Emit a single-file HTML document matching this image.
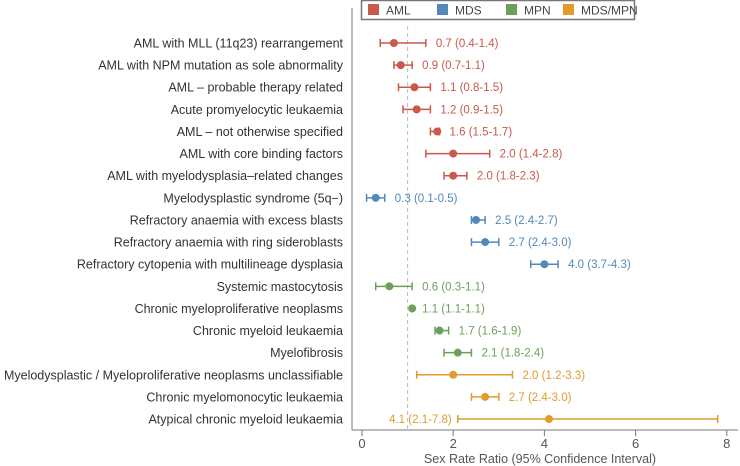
<!DOCTYPE html>
<html><head><meta charset="utf-8"><style>
body{margin:0;background:#fff;}
svg{display:block;font-family:"Liberation Sans",sans-serif;}
</style></head><body>
<svg id="chart" width="740" height="466"></svg>
<script>
const categories=["AML with MLL (11q23) rearrangement","AML with NPM mutation as sole abnormality","AML \u2013 probable therapy related","Acute promyelocytic leukaemia","AML \u2013 not otherwise specified","AML with core binding factors","AML with myelodysplasia\u2013related changes","Myelodysplastic syndrome (5q\u2212)","Refractory anaemia with excess blasts","Refractory anaemia with ring sideroblasts","Refractory cytopenia with multilineage dysplasia","Systemic mastocytosis","Chronic myeloproliferative neoplasms","Chronic myeloid leukaemia","Myelofibrosis","Myelodysplastic / Myeloproliferative neoplasms unclassifiable","Chronic myelomonocytic leukaemia","Atypical chronic myeloid leukaemia"];
const groups=["AML","AML","AML","AML","AML","AML","AML","MDS","MDS","MDS","MDS","MPN","MPN","MPN","MPN","MDS/MPN","MDS/MPN","MDS/MPN"];
const estimates=[0.7,0.85,1.15,1.2,1.65,2.0,2.0,0.3,2.5,2.7,4.0,0.6,1.1,1.7,2.1,2.0,2.7,4.1];
const lowers=[0.4,0.7,0.8,0.9,1.5,1.4,1.8,0.1,2.4,2.4,3.7,0.3,1.1,1.6,1.8,1.2,2.4,2.1];
const uppers=[1.4,1.1,1.5,1.5,1.7,2.8,2.3,0.5,2.7,3.0,4.3,1.1,1.1,1.9,2.4,3.3,3.0,7.8];
const valueLabels=["0.7 (0.4-1.4)","0.9 (0.7-1.1)","1.1 (0.8-1.5)","1.2 (0.9-1.5)","1.6 (1.5-1.7)","2.0 (1.4-2.8)","2.0 (1.8-2.3)","0.3 (0.1-0.5)","2.5 (2.4-2.7)","2.7 (2.4-3.0)","4.0 (3.7-4.3)","0.6 (0.3-1.1)","1.1 (1.1-1.1)","1.7 (1.6-1.9)","2.1 (1.8-2.4)","2.0 (1.2-3.3)","2.7 (2.4-3.0)","4.1 (2.1-7.8)"];
const xTicks=[0,2,4,6,8];
const legendGroups=["AML","MDS","MPN","MDS/MPN"];
const colors={"AML":"#c9594b","MDS":"#5289b8","MPN":"#6d9f5a","MDS/MPN":"#e29b2c"};
const NS="http://www.w3.org/2000/svg";
const svg=document.getElementById("chart");
const x=v=>362+v*45.6;
const y=i=>43+i*22.12;
function mk(t,a,p){const e=document.createElementNS(NS,t);for(const k in a)e.setAttribute(k,a[k]);(p||svg).appendChild(e);return e;}
// axes
let e=mk("line",{x1:352,y1:8,x2:352,y2:430,stroke:"#777","stroke-width":1});


e=mk("line",{x1:352,y1:430,x2:738,y2:430,stroke:"#777","stroke-width":1});


e=mk("line",{x1:x(1),y1:26,x2:x(1),y2:430,stroke:"#bbb","stroke-width":1,"stroke-dasharray":"4,3"});


xTicks.forEach(t=>{
 let l=mk("line",{x1:x(t),y1:430,x2:x(t),y2:436,stroke:"#777"});
 
 
 let tx=mk("text",{x:x(t),y:448,"text-anchor":"middle","font-size":13,fill:"#555"});tx.textContent=t;
 
 
});
e=mk("text",{x:540,y:463,"text-anchor":"middle","font-size":12.5,fill:"#555"});e.textContent="Sex Rate Ratio (95% Confidence Interval)";


categories.forEach((c,i)=>{
 const col=colors[groups[i]],yy=y(i);
 let t=mk("text",{x:343,y:yy+4.5,"text-anchor":"end","font-size":12.5,fill:"#333"});t.textContent=c;
 
 
 const g=mk("g",{});
 
 
 mk("line",{x1:x(lowers[i]),y1:yy,x2:x(uppers[i]),y2:yy,stroke:col,"stroke-width":1.5},g);
 mk("line",{x1:x(lowers[i]),y1:yy-4,x2:x(lowers[i]),y2:yy+4,stroke:col,"stroke-width":1.5},g);
 mk("line",{x1:x(uppers[i]),y1:yy-4,x2:x(uppers[i]),y2:yy+4,stroke:col,"stroke-width":1.5},g);
 let p=mk("circle",{cx:x(estimates[i]),cy:yy,r:4,fill:col});
 
 
 const left=uppers[i]>6;
 let v=mk("text",{x:left?x(lowers[i])-6:x(uppers[i])+10,y:yy+4,"text-anchor":left?"end":"start","font-size":11.5,fill:col});v.textContent=valueLabels[i];
 
 
});
// legend
e=mk("rect",{x:361.5,y:0.5,width:273,height:19,fill:"#fff",stroke:"#777","stroke-width":1.5});


const lx=[368,437,506,563];
legendGroups.forEach((g,i)=>{
 let r=mk("rect",{x:lx[i],y:4,width:11,height:11,fill:colors[g]});
 
 
 let t=mk("text",{x:lx[i]+18,y:14.5,"font-size":12,fill:"#444"});t.textContent=g;
 
 
});
</script>
</body></html>
